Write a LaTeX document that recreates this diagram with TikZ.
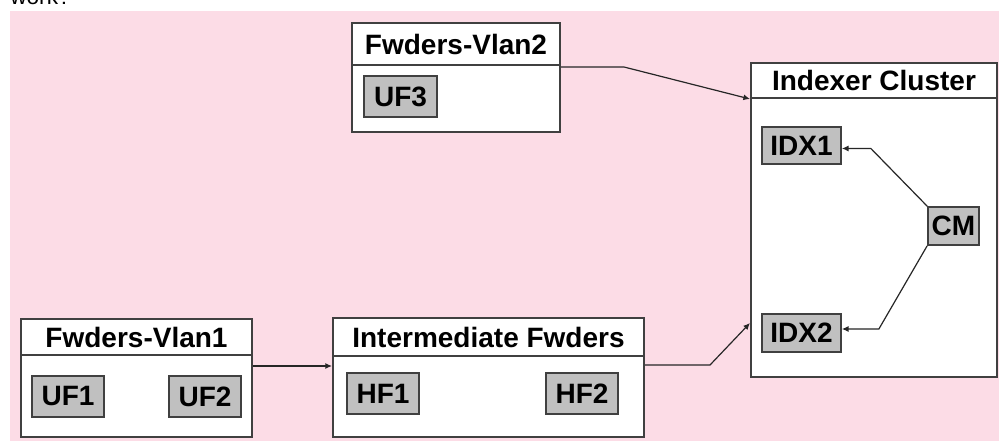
\documentclass[tikz,border=0pt]{standalone}
\usepackage{fontspec}
\setmainfont{Liberation Sans}
\usepackage{xcolor}
\usepackage{tikz}
\usetikzlibrary{arrows.meta,calc}

\definecolor{bgpink}{RGB}{252,220,230}
\definecolor{unitgray}{RGB}{192,192,192}
\definecolor{boxline}{RGB}{64,64,64}

\tikzset{
  head/.style={draw=boxline,fill=white,line width=1.5pt,inner sep=0pt,font=\fontsize{21}{25}\selectfont\bfseries},
  body/.style={draw=boxline,fill=white,line width=1.5pt,inner sep=0pt},
  unit/.style={draw=boxline,fill=unitgray,line width=1.3pt,inner sep=0pt,font=\fontsize{21}{25}\selectfont\bfseries},
  link/.style={draw=black!85,line width=0.9pt,-{Latex[length=5pt,width=4.5pt]}}
}

\begin{document}
\begin{tikzpicture}[x=0.75pt,y=0.75pt,yscale=-1,xscale=1]
\useasboundingbox (0,0) rectangle (999,441);
\clip (0,0) rectangle (999,441);

%Shape: Rectangle [background]
\fill[bgpink] (10,11) rectangle (999,441);
% Text Node
\node (work) [anchor=base west,inner sep=0pt,font=\fontsize{17}{20}\selectfont] at (10,5) {work?};

%Shape: Rectangle [Fwders-Vlan2]
\node (vlantwohead) [head,minimum width=156pt,minimum height=31.5pt] at (456,44) {Fwders-Vlan2};
\node (vlantwo) [body,minimum width=156pt,minimum height=50.25pt] at (456,98.5) {};
%Shape: Rectangle [Indexer Cluster]
\node (idxhead) [head,minimum width=184.5pt,minimum height=26.25pt] at (874,80.5) {Indexer Cluster};
\node (idxbody) [body,minimum width=184.5pt,minimum height=209.25pt] at (874,237.5) {};
%Shape: Rectangle [Fwders-Vlan1]
\node (vlanonehead) [head,minimum width=173.25pt,minimum height=27pt] at (136.5,337) {Fwders-Vlan1};
\node (vlanone) [body,minimum width=173.25pt,minimum height=61.5pt] at (136.5,396) {};
%Shape: Rectangle [Intermediate Fwders]
\node (interhead) [head,minimum width=233.25pt,minimum height=28.5pt] at (488.5,337) {Intermediate Fwders};
\node (interbody) [body,minimum width=233.25pt,minimum height=60.75pt] at (488.5,396.5) {};

% Text Node
\node (uf3) [unit,minimum width=54.75pt,minimum height=30.75pt] at (400.5,96.5) {UF3};
% Text Node
\node (idxone) [unit,minimum width=59.25pt,minimum height=27.75pt] at (801.5,145.5) {IDX1};
% Text Node
\node (cm) [unit,minimum width=38.25pt,minimum height=28.5pt] at (953.5,226) {CM};
% Text Node
\node (idxtwo) [unit,minimum width=59.25pt,minimum height=28.5pt] at (801.5,333) {IDX2};
% Text Node
\node (uf1) [unit,minimum width=54pt,minimum height=30.75pt] at (68,396.5) {UF1};
% Text Node
\node (uf2) [unit,minimum width=54pt,minimum height=30.75pt] at (205,396.5) {UF2};
% Text Node
\node (hf1) [unit,minimum width=54pt,minimum height=30.75pt] at (383,393.5) {HF1};
% Text Node
\node (hf2) [unit,minimum width=54pt,minimum height=30.75pt] at (582,393.5) {HF2};

%Straight Lines [connectors]
\draw[link] ($(vlantwo.north east)+(0,3)$) -- ++(63,0) -- ($(idxbody.north west)+(0,2)$);
\draw[link] ($(interbody.north east)+(0,10)$) -- ++(65,0) -- ($(idxbody.south west)+(0,-55)$);
\draw[link] ($(vlanone.north east)+(0,12)$) -- ($(interbody.north west)+(0,11)$);
\draw[link] (cm.north west) -- ($(idxone.east)+(29,3)$) -- ($(idxone.east)+(0,3)$);
\draw[link] (cm.south west) -- ($(idxtwo.east)+(37,-4)$) -- ($(idxtwo.east)+(0,-4)$);

\end{tikzpicture}
\end{document}
